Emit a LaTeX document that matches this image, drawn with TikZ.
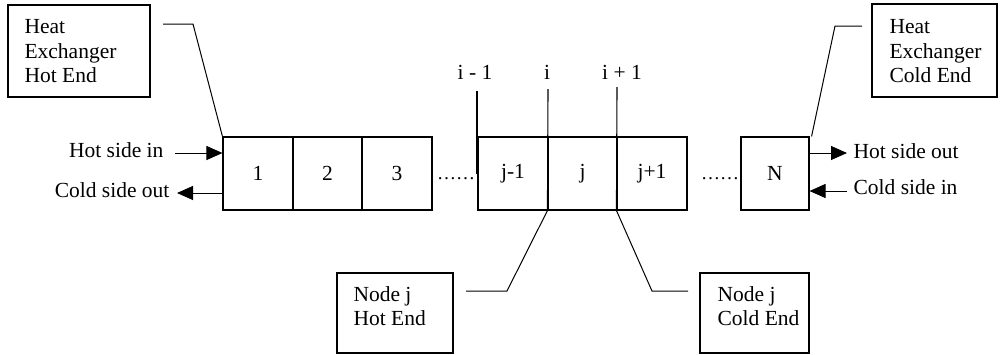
\documentclass[tikz,border=0pt]{standalone}
\usepackage{fontspec}
\setmainfont{Liberation Serif}
\usetikzlibrary{arrows.meta}
\begin{document}
\begin{tikzpicture}[x=1pt,y=-1pt,
  every node/.style={font=\fontsize{21.5}{24.5}\selectfont},
  line width=1.1pt,
  cell/.style={draw,minimum height=73pt,inner sep=0pt,line width=1.1pt},
  tag/.style={draw,inner sep=0pt,line width=1.1pt},
  tagtext/.style={anchor=north west,align=left,inner sep=0pt},
  flow/.style={-{Triangle[length=16pt,width=14pt]},line width=1pt},
  leader/.style={line width=1pt}]
\useasboundingbox (0,0) rectangle (1001,354);

% cells of the discretised exchanger
\node[cell,minimum width=70pt] (c1) at (258,173.5) {1};
\node[cell,minimum width=69pt] (c2) at (327.5,173.5) {2};
\node[cell,minimum width=70pt] (c3) at (397,173.5) {3};
\node[cell,minimum width=70pt] (cjm) at (513,173.5) {j-1};
\node[cell,minimum width=69pt] (cj) at (582.5,173.5) {j};
\node[cell,minimum width=70pt] (cjp) at (652,173.5) {j+1};
\node[cell,minimum width=68pt] (cN) at (775,173.5) {N};

% gaps between groups of cells
\node[inner sep=0pt,anchor=base] (dl) at (456,179) {\fontsize{19}{24}\selectfont ……};
\node[inner sep=0pt,anchor=base] (dr) at (720,179) {\fontsize{19}{24}\selectfont ……};

% node boundary indices
\node[anchor=base,inner sep=0pt] (im) at (475,79) {i - 1};
\node[anchor=base,inner sep=0pt] (i0) at (547,79) {i};
\node[anchor=base,inner sep=0pt] (ip) at (622,79) {i + 1};
\coordinate (imt) at (477,91);
\coordinate (imb) at (477,174);
\coordinate (i0t) at (548,89);
\coordinate (ipt) at (617,87);
\draw (imt) -- (imb);
\draw (i0t) -- (cj.south west);
\draw (ipt) -- (cjp.south west);

% flow arrows at the ends
\node[anchor=base east,inner sep=0pt] (hin) at (164,157) {Hot side in};
\node[anchor=base east,inner sep=0pt] (cout) at (170,197) {Cold side out};
\node[anchor=base west,inner sep=0pt] (hout) at (853,158) {Hot side out};
\node[anchor=base west,inner sep=0pt] (cin) at (853,194) {Cold side in};
\coordinate (hins) at (175,153);
\coordinate (couts) at (223,193);
\coordinate (coute) at (177,193);
\coordinate (houts) at (809,153);
\coordinate (houte) at (847,153);
\coordinate (cins) at (847,191);
\draw[flow] (hins) -- (c1.west |- hins);
\draw[flow] (couts) -- (coute);
\draw[flow] (houts) -- (houte);
\draw[flow] (cins) -- (cN.east |- cins);

% callout boxes
\node[tag,minimum width=142pt,minimum height=92pt] (hotend) at (79,51) {};
\node[tagtext] (hotendt) at (24,19) {Heat\\Exchanger\\Hot End};
\node[tag,minimum width=125pt,minimum height=93pt] (coldend) at (934.5,50.5) {};
\node[tagtext] (coldendt) at (889,19) {Heat\\Exchanger\\Cold End};
\node[tag,minimum width=116pt,minimum height=80pt] (njh) at (395,313) {};
\node[tagtext] (njht) at (353,286) {Node j\\Hot End};
\node[tag,minimum width=109pt,minimum height=80pt] (njc) at (754.5,313) {};
\node[tagtext] (njct) at (717,286) {Node j\\Cold End};

% callout leaders
\coordinate (la) at (163,24);
\coordinate (lb) at (862,26);
\coordinate (lc) at (466,291);
\coordinate (ld) at (688,291);
\draw[leader] (la) -- (193,24) -- (c1.north west);
\draw[leader] (lb) -- (835,26) -- ([xshift=2pt]cN.north east);
\draw[leader] (lc) -- (507,291) -- (cj.south west);
\draw[leader] (cjp.south west) -- (652,291) -- (ld);
\end{tikzpicture}
\end{document}
